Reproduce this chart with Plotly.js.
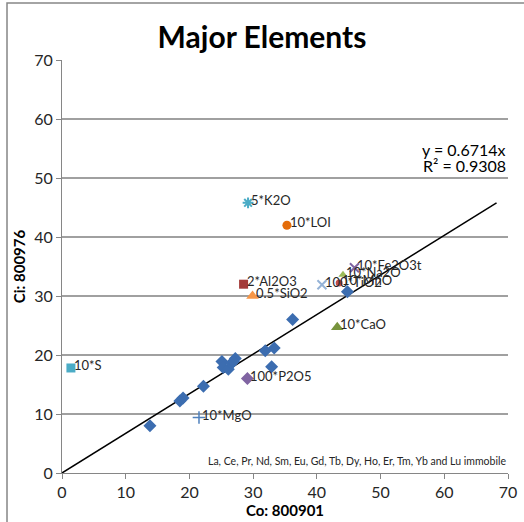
<!DOCTYPE html>
<html>
<head>
<meta charset="utf-8">
<script src="https://cdn.plot.ly/plotly-3.0.1.min.js"></script>
<style>
  html, body { margin: 0; padding: 0; background: #fff; }
  #chart { width: 524px; height: 522px; }
</style>
</head>
<body>
<div id="chart"></div>
<script>
// Trace-element points (Co vs Ci)
const traceX = [13.8, 18.5, 19.0, 22.2, 25.1, 25.3, 26.1, 26.6, 27.2, 26.9, 31.9, 33.3, 32.9, 36.2, 44.8];
const traceY = [8.0, 12.2, 12.7, 14.7, 18.9, 17.9, 17.6, 18.6, 19.4, 18.9, 20.7, 21.2, 18.0, 26.0, 30.7];

// Major-element points (scaled)
const majorLabels = ["5*K2O", "10*LOI", "2*Al2O3", "0.5*SiO2", "100*TiO2", "10*MnO", "10*Na2O", "10*Fe2O3t", "10*CaO", "100*P2O5", "10*MgO", "10*S"];
const majorX = [29.2, 35.3, 28.5, 29.9, 40.8, 43.5, 44.1, 45.9, 43.2, 29.1, 21.5, 1.4];
const majorY = [45.8, 42.0, 32.0, 30.0, 31.9, 32.2, 33.6, 34.8, 24.7, 16.0, 9.4, 17.8];

// Trendline y = 0.6714x through origin
const slope = 0.6714;
const r2 = 0.9308;
const trendX = [0, 68.2];

const markerStyles = [
  {symbol: "asterisk-open", color: "#4BACC6", size: 9, line: {color: "#4BACC6", width: 2}},
  {symbol: "circle", color: "#E46C0A", size: 9, line: {width: 0}},
  {symbol: "square", color: "#A33A38", size: 9, line: {width: 0}},
  {symbol: "triangle-up", color: "#F79646", size: 11, line: {width: 0}},
  {symbol: "x-thin-open", color: "#95B3D7", size: 9, line: {color: "#95B3D7", width: 2}},
  {symbol: "circle", color: "#C0504D", size: 7, line: {width: 0}},
  {symbol: "triangle-up", color: "#9BBB59", size: 8, line: {width: 0}},
  {symbol: "x-thin-open", color: "#8064A2", size: 9, line: {color: "#8064A2", width: 2}},
  {symbol: "triangle-up", color: "#77933C", size: 11, line: {width: 0}},
  {symbol: "diamond", color: "#8064A2", size: 10, line: {width: 0}},
  {symbol: "cross-thin-open", color: "#4F81BD", size: 9, line: {color: "#4F81BD", width: 1.5}},
  {symbol: "square", color: "#4BACC6", size: 9, line: {width: 0}}
];

const FONT = "Lato, 'Open Sans', sans-serif";
const labelFont = {family: FONT, size: 13, color: "#262626"};

const data = [
  {
    x: trendX, y: trendX.map(v => v * slope),
    mode: "lines", type: "scatter",
    line: {color: "#000000", width: 1.5},
    hoverinfo: "skip", showlegend: false
  },
  {
    x: traceX, y: traceY,
    mode: "markers", type: "scatter",
    marker: {symbol: "diamond", color: "#3C6DB0", size: 10},
    showlegend: false
  }
];

const labelAnnotations = [];
majorLabels.forEach((lab, i) => {
  const s = markerStyles[i];
  data.push({
    x: [majorX[i]], y: [majorY[i]],
    mode: "markers", type: "scatter",
    marker: {symbol: s.symbol, color: s.color, size: s.size, line: s.line},
    cliponaxis: false,
    showlegend: false
  });
  labelAnnotations.push({
    x: majorX[i], y: majorY[i], xref: "x", yref: "y",
    text: lab, showarrow: false,
    xanchor: "left", yanchor: "middle",
    xshift: 1, yshift: 3,
    font: labelFont
  });
});

const axisFont = {family: FONT, size: 16, color: "#262626"};

const layout = {
  width: 524, height: 522,
  margin: {l: 62, r: 16, t: 60, b: 49},
  paper_bgcolor: "#ffffff",
  plot_bgcolor: "#ffffff",
  showlegend: false,
  title: {
    text: "<b>Major Elements</b>",
    font: {family: FONT, size: 30, color: "#000000"},
    x: 0.5, xanchor: "center", y: 0.928, yanchor: "middle"
  },
  xaxis: {
    range: [0, 70], dtick: 10, tick0: 0,
    showgrid: false, zeroline: false,
    showline: true, linecolor: "#868686", linewidth: 1,
    ticks: "outside", ticklen: 5, tickcolor: "#868686",
    tickfont: axisFont,
    title: {text: "<b>Co: 800901</b>", font: {family: FONT, size: 15, color: "#000"}, standoff: 1},
    fixedrange: true
  },
  yaxis: {
    range: [0, 70], dtick: 10, tick0: 0,
    showgrid: true, gridcolor: "#a0a0a0", gridwidth: 1.3,
    zeroline: false,
    showline: true, linecolor: "#868686", linewidth: 1,
    ticks: "outside", ticklen: 5, tickcolor: "#868686",
    tickfont: axisFont,
    title: {text: "<b>Ci: 800976</b>", font: {family: FONT, size: 15, color: "#000"}, standoff: 4},
    fixedrange: true
  },
  annotations: labelAnnotations.concat([
    {
      xref: "paper", yref: "paper", x: 1.0, y: 0.783,
      xanchor: "right", yanchor: "middle", align: "right",
      text: "y = " + slope + "x",
      showarrow: false,
      font: {family: FONT, size: 16, color: "#000"}
    },
    {
      xref: "paper", yref: "paper", x: 1.0, y: 0.744,
      xanchor: "right", yanchor: "middle", align: "right",
      text: "R² = " + r2,
      showarrow: false,
      font: {family: FONT, size: 16, color: "#000"}
    },
    {
      xref: "paper", yref: "paper", x: 1.0, y: 0.01,
      xanchor: "right", yanchor: "bottom",
      text: "La, Ce, Pr, Nd, Sm, Eu, Gd, Tb, Dy, Ho, Er, Tm, Yb and Lu immobile",
      showarrow: false,
      font: {family: FONT, size: 10.5, color: "#262626"}
    }
  ]),
  shapes: [
    {
      type: "rect", xref: "paper", yref: "paper",
      x0: -0.1233, x1: 1.2, y0: -0.4, y1: 1.138,
      line: {color: "#868686", width: 1.5}, fillcolor: "rgba(0,0,0,0)", layer: "above"
    }
  ]
};

Plotly.newPlot("chart", data, layout, {displayModeBar: false, staticPlot: true});
</script>
</body>
</html>
